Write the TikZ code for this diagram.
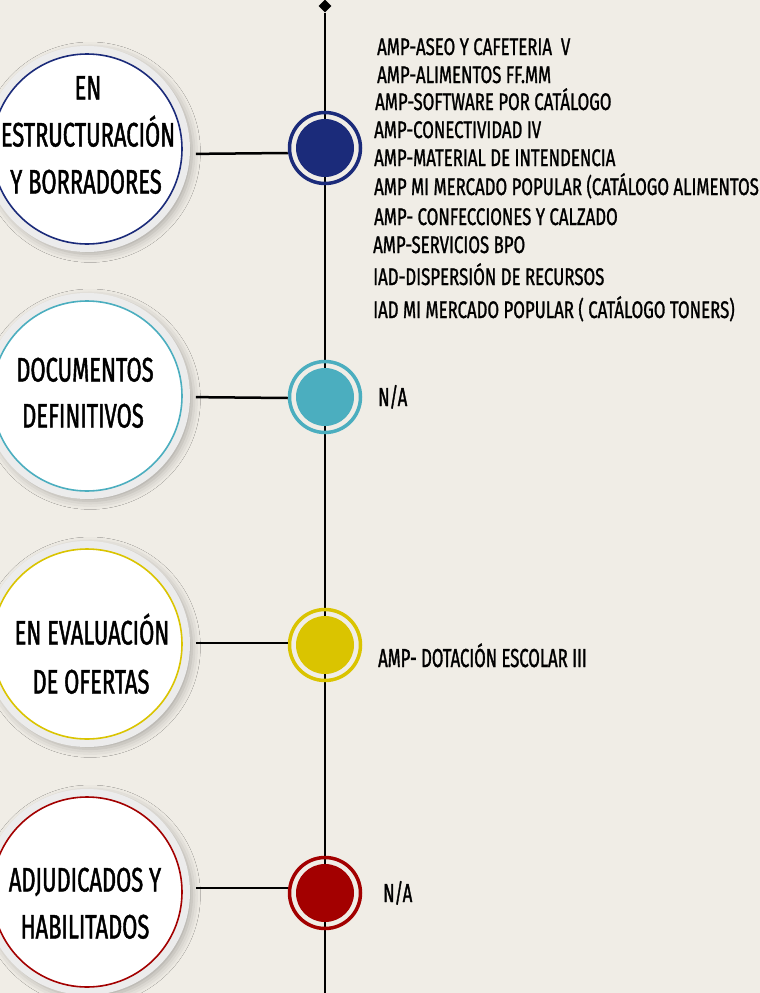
\documentclass[tikz,border=0pt]{standalone}
\usepackage{fontspec}
\usetikzlibrary{shapes.geometric,shadows.blur}
\newfontfamily\cfont[FakeStretch=0.645, FakeBold=1.3]{Fira Sans}
\newfontfamily\lfont[FakeStretch=0.70, FakeBold=1.1]{Fira Sans}
\newfontfamily\mfont[FakeStretch=0.64, FakeBold=1.3]{Fira Sans}
\definecolor{bg}{RGB}{240,237,230}
\definecolor{navy}{RGB}{27,43,122}
\definecolor{teal}{RGB}{75,174,191}
\definecolor{gold}{RGB}{218,196,0}
\definecolor{wine}{RGB}{163,0,0}
\definecolor{halo}{RGB}{236,236,236}
\tikzset{
  spine/.style={line width=2.5pt, black},
  conn/.style={line width=2.5pt, black},
  bigc/.style={circle, minimum size=190pt, inner sep=0pt, fill=white, line width=1.6pt,
     blur shadow={shadow xshift=3pt, shadow yshift=-3pt, shadow scale=1.07, shadow blur radius=8pt, shadow opacity=30},
     preaction={draw=halo, line width=16pt}},
  ring/.style={circle, draw, line width=3.5pt, minimum size=71pt, inner sep=0pt},
  disc/.style={circle, draw=none, minimum size=58pt, inner sep=0pt},
  ctext/.style={anchor=base, inner sep=0pt, font=\cfont\fontsize{34}{40}\selectfont},
  ltext/.style={anchor=base west, inner sep=0pt, font=\lfont\fontsize{24}{28}\selectfont},
  mtext/.style={anchor=base west, inner sep=0pt, font=\mfont\fontsize{26}{30}\selectfont},
}
\begin{document}
\begin{tikzpicture}[x=1pt,y=-1pt]
\fill[bg] (0,0) rectangle (760,993);
\useasboundingbox (0,0) rectangle (760,993);
% spine
\node[diamond, fill=black, minimum size=13pt, inner sep=0pt] (top) at (325,6) {};
\coordinate (bot) at (325,995);
\draw[spine] (top) -- (bot);
% big circles
\node[bigc, draw=navy] (b1) at (87,149) {};
\node[bigc, draw=teal] (b2) at (87,396) {};
\node[bigc, draw=gold] (b3) at (87,644) {};
\node[bigc, draw=wine] (b4) at (87,892) {};
% small markers
\node[ring, draw=navy] (s1) at (325,148) {};
\node[disc, fill=navy] (d1) at (325,148) {};
\node[ring, draw=teal] (s2) at (325,397) {};
\node[disc, fill=teal] (d2) at (325,397) {};
\node[ring, draw=gold] (s3) at (325,645) {};
\node[disc, fill=gold] (d3) at (325,645) {};
\node[ring, draw=wine] (s4) at (325,893) {};
\node[disc, fill=wine] (d4) at (325,893) {};
% connectors
\draw[conn, shorten <=13pt] ([yshift=-5pt]b1.east) -- ([yshift=-5pt]s1.west);
\draw[conn, shorten <=13pt] ([yshift=-1pt]b2.east) -- ([yshift=-1pt]s2.west);
\draw[conn, shorten <=13pt] ([yshift=1pt]b3.east) -- ([yshift=2pt]s3.west);
\draw[conn, shorten <=13pt] ([yshift=4pt]b4.east) -- ([yshift=5pt]s4.west);
% circle texts
\node[ctext] (t1a) at (88,99.5) {EN};
\node[ctext] (t1b) at (88,146.5) {ESTRUCTURACIÓN};
\node[ctext] (t1c) at (86,193.5) {Y BORRADORES};
\node[ctext] (t2a) at (85,381.5) {DOCUMENTOS};
\node[ctext] (t2b) at (83,427.5) {DEFINITIVOS};
\node[ctext] (t3a) at (92,644.5) {EN EVALUACIÓN};
\node[ctext] (t3b) at (91,693.5) {DE OFERTAS};
\node[ctext] (t4a) at (85,891.5) {ADJUDICADOS Y};
\node[ctext] (t4b) at (85,938.5) {HABILITADOS};
% list
\node[ltext] (l1) at (377,55) {AMP-ASEO Y CAFETERIA\ \ V};
\node[ltext] (l2) at (377,83) {AMP-ALIMENTOS FF.MM};
\node[ltext] (l3) at (375,110) {AMP-SOFTWARE POR CATÁLOGO};
\node[ltext] (l4) at (374,138) {AMP-CONECTIVIDAD IV};
\node[ltext] (l5) at (374,166) {AMP-MATERIAL DE INTENDENCIA};
\node[ltext] (l6) at (374,195) {AMP MI MERCADO POPULAR (CATÁLOGO ALIMENTOS};
\node[ltext] (l7) at (374,225) {AMP- CONFECCIONES Y CALZADO};
\node[ltext] (l8) at (373,253) {AMP-SERVICIOS BPO};
\node[ltext] (l9) at (373,285) {IAD-DISPERSIÓN DE RECURSOS};
\node[ltext] (l10) at (373,318) {IAD MI MERCADO POPULAR ( CATÁLOGO TONERS)};
\node[mtext] (n2) at (378,406) {N/A};
\node[mtext] (n3) at (378,667) {AMP- DOTACIÓN ESCOLAR III};
\node[mtext] (n4) at (383,902) {N/A};
\end{tikzpicture}
\end{document}
